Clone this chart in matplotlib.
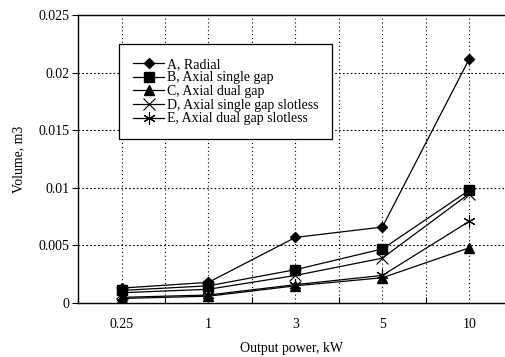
import numpy as np
import matplotlib.pyplot as plt

# output power categories and the volume of each machine type (m3)
power = ["0.25", "1", "3", "5", "10"]
radial = [0.0013, 0.0018, 0.0057, 0.0066, 0.0212]
axial_single = [0.0011, 0.0015, 0.0029, 0.0047, 0.0098]
axial_dual = [0.0004, 0.0006, 0.0015, 0.0022, 0.0048]
axial_single_slotless = [0.0009, 0.0012, 0.0024, 0.0039, 0.0095]
axial_dual_slotless = [0.0005, 0.0007, 0.0016, 0.0024, 0.0071]

plt.rcParams['font.family'] = ['Liberation Serif', 'DejaVu Serif']

fig = plt.figure(figsize=(5.05, 3.57), dpi=100)
ax = fig.add_axes([0.1545, 0.151, 0.8455, 0.807])

x = np.arange(len(power))
ax.plot(x, radial, color='black', lw=0.9, marker='D', ms=5.5, label='A, Radial')
ax.plot(x, axial_single, color='black', lw=0.9, marker='s', ms=6.5, label='B, Axial single gap')
ax.plot(x, axial_dual, color='black', lw=0.9, marker='^', ms=7, label='C, Axial dual gap')
ax.plot(x, axial_single_slotless, color='black', lw=0.9, marker='x', ms=8, mew=0.8,
        label='D, Axial single gap slotless')
ax.plot(x, axial_dual_slotless, color='black', lw=0.9, marker=(6, 2, 0), ms=9, mew=0.8,
        label='E, Axial dual gap slotless')

ax.set_xlim(-0.5, 4.41)
ax.set_ylim(0, 0.025)
ax.set_yticks([0, 0.005, 0.01, 0.015, 0.02, 0.025])
ax.set_yticklabels(['0', '0.005', '0.01', '0.015', '0.02', '0.025'])
ax.set_xticks(x)
ax.set_xticklabels(power)
ax.set_xticks(np.arange(-0.5, 4.5, 1.0), minor=True)

# dotted grid at categories, category boundaries and y ticks
for xv in np.arange(0, 4.5, 0.5):
    ax.axvline(xv, color='black', lw=0.8, ls=(0, (1, 2.5)), zorder=0)
for yv in [0.005, 0.01, 0.015, 0.02]:
    ax.axhline(yv, color='black', lw=0.8, ls=(0, (1.5, 2)), zorder=0)

ax.tick_params(axis='x', which='major', length=0, labelsize=10, pad=11)
ax.tick_params(axis='x', which='minor', direction='in', length=4, width=0.8)
ax.tick_params(axis='y', direction='out', length=4, width=0.8, labelsize=10, pad=2)

ax.spines['right'].set_visible(False)
ax.spines['top'].set_linewidth(1.0)
ax.spines['top'].set_linestyle((0, (3, 1)))
ax.spines['left'].set_linewidth(1.0)
ax.spines['bottom'].set_linewidth(1.0)

ax.set_xlabel('Output power, kW', fontsize=10, labelpad=8)
ax.set_ylabel('Volume, m3', fontsize=10, labelpad=10)

leg = ax.legend(loc='upper left', bbox_to_anchor=(0.097, 0.9), fontsize=10,
                frameon=True, fancybox=False, edgecolor='black', framealpha=1,
                handlelength=2.2, handletextpad=0.2, labelspacing=0.05,
                borderpad=1.0, borderaxespad=0)
leg.get_frame().set_linewidth(0.9)

fig.savefig('out.png', dpi=100)
